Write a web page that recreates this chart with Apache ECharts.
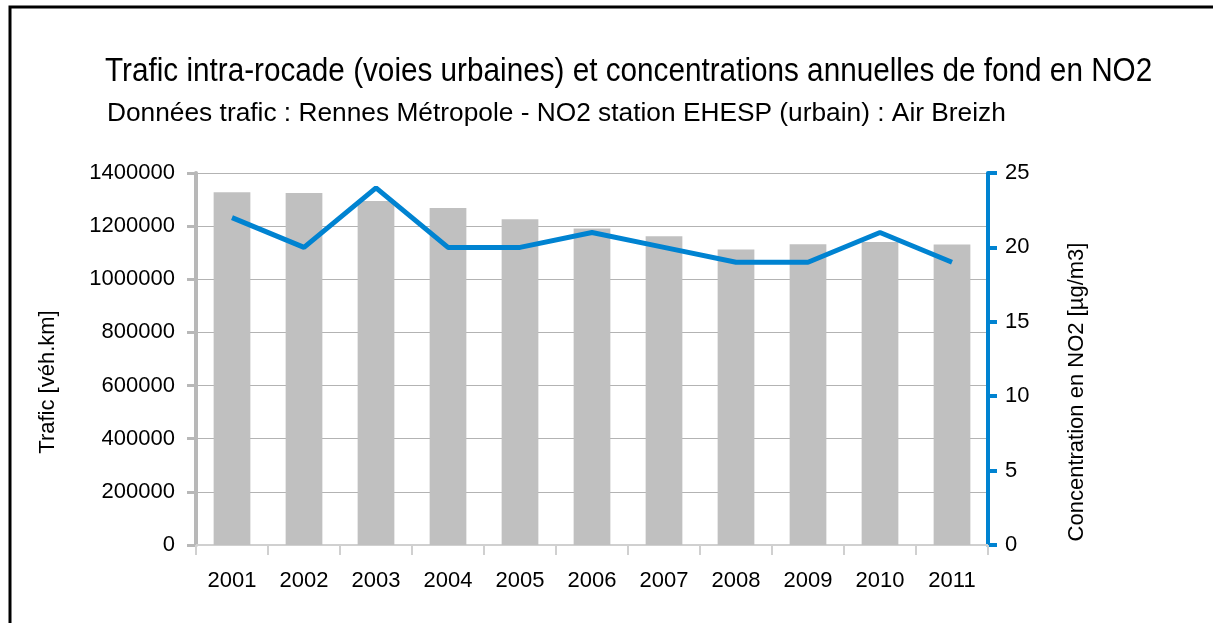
<!DOCTYPE html>
<html>
<head>
<meta charset="utf-8">
<script src="https://cdn.jsdelivr.net/npm/echarts@6/dist/echarts.min.js"></script>
<style>
  html, body { margin: 0; padding: 0; background: #fff; }
  #chart { width: 1213px; height: 623px; }
</style>
</head>
<body>
<div id="chart"></div>
<script>
// Trafic intra-rocade vs NO2 background concentration, Rennes 2001-2011
const years = ["2001", "2002", "2003", "2004", "2005", "2006", "2007", "2008", "2009", "2010", "2011"]
const trafic = [1328000, 1325000, 1295000, 1268000, 1226000, 1191000, 1162000, 1112000, 1132000, 1140000, 1131000]
const no2 = [22, 20, 24, 20, 20, 21, 20, 19, 19, 21, 19]

const FONT = "'Liberation Sans', Arial, sans-serif"
const BLUE = "#0083d1"
const GREY_AXIS = "#b8b8b8"

const chart = echarts.init(document.getElementById("chart"), null, { renderer: "canvas" })

chart.setOption({
  backgroundColor: "#ffffff",
  animation: false,
  textStyle: { fontFamily: FONT },
  grid: { left: 196, right: 225, top: 173, bottom: 78, containLabel: false },
  xAxis: {
    type: "category",
    data: years,
    boundaryGap: true,
    axisLine: { lineStyle: { color: "#d0d0d0", width: 2 } },
    axisTick: { show: true, alignWithLabel: false, length: 10, lineStyle: { color: "#d0d0d0", width: 2 } },
    axisLabel: { color: "#000", fontSize: 22, margin: 25, fontFamily: FONT }
  },
  yAxis: [
    {
      type: "value",
      min: 0, max: 1400000, interval: 200000,
      axisLine: { show: true, lineStyle: { color: GREY_AXIS, width: 4 } },
      axisTick: { show: true, length: 9, lineStyle: { color: GREY_AXIS, width: 3 } },
      axisLabel: { color: "#000", fontSize: 22, margin: 21, fontFamily: FONT, formatter: (v) => String(v) },
      splitLine: { show: true, lineStyle: { color: "#b3b3b3", width: 1 } }
    },
    {
      type: "value",
      position: "right",
      min: 0, max: 25, interval: 5,
      axisLine: { show: true, lineStyle: { color: BLUE, width: 4 } },
      axisTick: { show: true, length: 9, lineStyle: { color: BLUE, width: 4 } },
      axisLabel: { color: "#000", fontSize: 22, margin: 17, fontFamily: FONT },
      splitLine: { show: false }
    }
  ],
  series: [
    {
      type: "bar",
      data: trafic,
      yAxisIndex: 0,
      barWidth: "51%",
      itemStyle: { color: "#c0c0c0" },
      z: 2
    },
    {
      type: "line",
      data: no2,
      yAxisIndex: 1,
      symbol: "none",
      lineStyle: { color: BLUE, width: 5 },
      z: 3
    }
  ],
  graphic: [
    {
      type: "rect",
      shape: { x: 10, y: 7, width: 1240, height: 700 },
      style: { fill: "none", stroke: "#000", lineWidth: 3 },
      silent: true
    },
    {
      // the original title font is a bit condensed
      type: "text", x: 105, y: 72, scaleX: 0.9,
      style: { text: "Trafic intra-rocade (voies urbaines) et concentrations annuelles de fond en NO2",
        font: "33px " + FONT, fill: "#000", align: "left", verticalAlign: "middle" }
    },
    {
      type: "text", x: 107, y: 114,
      style: { text: "Données trafic : Rennes Métropole - NO2 station EHESP (urbain) : Air Breizh",
        font: "26.3px " + FONT, fill: "#000", align: "left", verticalAlign: "middle" }
    },
    {
      type: "text", x: 48, y: 382, rotation: Math.PI / 2,
      style: { text: "Trafic [véh.km]", font: "22px " + FONT, fill: "#000", align: "center", verticalAlign: "middle" }
    },
    {
      type: "text", x: 1077, y: 392, rotation: Math.PI / 2,
      style: { text: "Concentration en NO2 [µg/m3]", font: "22px " + FONT, fill: "#000", align: "center", verticalAlign: "middle" }
    }
  ]
})
</script>
</body>
</html>
